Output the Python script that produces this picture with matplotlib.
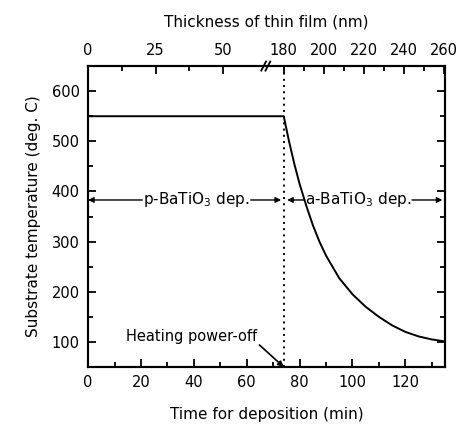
import matplotlib
matplotlib.use("Agg")
import matplotlib.pyplot as plt
from matplotlib.ticker import MultipleLocator

# deposition time (min) vs substrate temperature (deg. C)
time_min = [0, 74, 76, 78, 80, 82.5, 85, 87.5, 90, 95, 100, 105, 110, 115, 120, 125, 130, 135]
temp_c = [550, 550, 500, 455, 415, 372, 333, 300, 272, 227, 195, 170, 150, 133, 120, 111, 105, 101]

power_off = 74  # min, heating switched off

# top axis: thickness of film (nm)
thk_low = [0, 25, 50]
thk_low_minor = [12.5, 37.5]
thk_high = [180, 200, 220, 240, 260]
thk_high_minor = [190, 210, 230, 250]
p_rate = 0.98   # nm/min, p-BaTiO3
a_rate = 1.32   # nm/min, a-BaTiO3 after power-off
thk_start_high = 180

def thk_to_time_low(thk):
    return [t / p_rate for t in thk]

def thk_to_time_high(thk):
    return [power_off + (t - thk_start_high) / a_rate for t in thk]

plt.rcParams['font.family'] = ['DejaVu Sans']
plt.rcParams['font.size'] = 10

fig = plt.figure(figsize=(4.66, 4.29), dpi=100)
ax = fig.add_axes([0.189, 0.1445, 0.766, 0.7015])

ax.plot(time_min, temp_c, color='black', lw=1.4)
ax.axvline(power_off, color='black', ls=(0, (1, 2.2)), lw=1.4)

ax.set_xlim(0, 135)
ax.set_ylim(50, 650)
ax.xaxis.set_major_locator(MultipleLocator(20))
ax.xaxis.set_minor_locator(MultipleLocator(10))
ax.yaxis.set_major_locator(MultipleLocator(100))
ax.yaxis.set_minor_locator(MultipleLocator(50))
ax.set_yticks([100, 200, 300, 400, 500, 600])
ax.tick_params(which='both', direction='in', top=False, right=True, width=1.3)
ax.tick_params(which='major', length=6)
ax.tick_params(which='minor', length=3.5)
ax.tick_params(axis='both', labelsize=10.5, pad=6)
for s in ax.spines.values():
    s.set_linewidth(1.5)

ax.set_xlabel('Time for deposition (min)', fontsize=11, labelpad=12)
ax.set_ylabel('Substrate temperature (deg. C)', fontsize=11, labelpad=8)

# top thickness axis
top = ax.twiny()
top.set_xlim(ax.get_xlim())
top.set_xticks(thk_to_time_low(thk_low) + thk_to_time_high(thk_high))
top.set_xticklabels([str(t) for t in thk_low + thk_high])
top.set_xticks(thk_to_time_low(thk_low_minor) + thk_to_time_high(thk_high_minor), minor=True)
top.tick_params(which='both', direction='in', width=1.3, labelsize=10.5, pad=6)
top.tick_params(which='major', length=6)
top.tick_params(which='minor', length=3.5)
for s in top.spines.values():
    s.set_linewidth(1.5)
top.set_xlabel('Thickness of thin film (nm)', fontsize=11, labelpad=12)

# axis break marks on top spine
for dx in (0, 1.6):
    ax.plot([65.5 + dx, 67.3 + dx], [641, 659], color='black', lw=1.3, clip_on=False)

# deposition range arrows
y_arr = 383
arr = dict(arrowstyle='-|>', color='black', lw=1.0, mutation_scale=8, shrinkA=0, shrinkB=0)
ax.text(41, y_arr, 'p-BaTiO$_3$ dep.', ha='center', va='center', fontsize=11)
ax.annotate('', xy=(0, y_arr), xytext=(20.5, y_arr), arrowprops=arr)
ax.annotate('', xy=(73, y_arr), xytext=(61.5, y_arr), arrowprops=arr)
ax.text(102, y_arr, 'a-BaTiO$_3$ dep.', ha='center', va='center', fontsize=11)
ax.annotate('', xy=(75.3, y_arr), xytext=(81.8, y_arr), arrowprops=arr)
ax.annotate('', xy=(134, y_arr), xytext=(122.5, y_arr), arrowprops=arr)

# heating power-off
ax.text(39, 110, 'Heating power-off', ha='center', va='center', fontsize=10.5)
ax.annotate('', xy=(74, 50), xytext=(64.8, 94),
            arrowprops=dict(arrowstyle='-|>', color='black', lw=1.2, mutation_scale=8,
                            shrinkA=0, shrinkB=0), annotation_clip=False)

fig.savefig('out.png', dpi=100)
